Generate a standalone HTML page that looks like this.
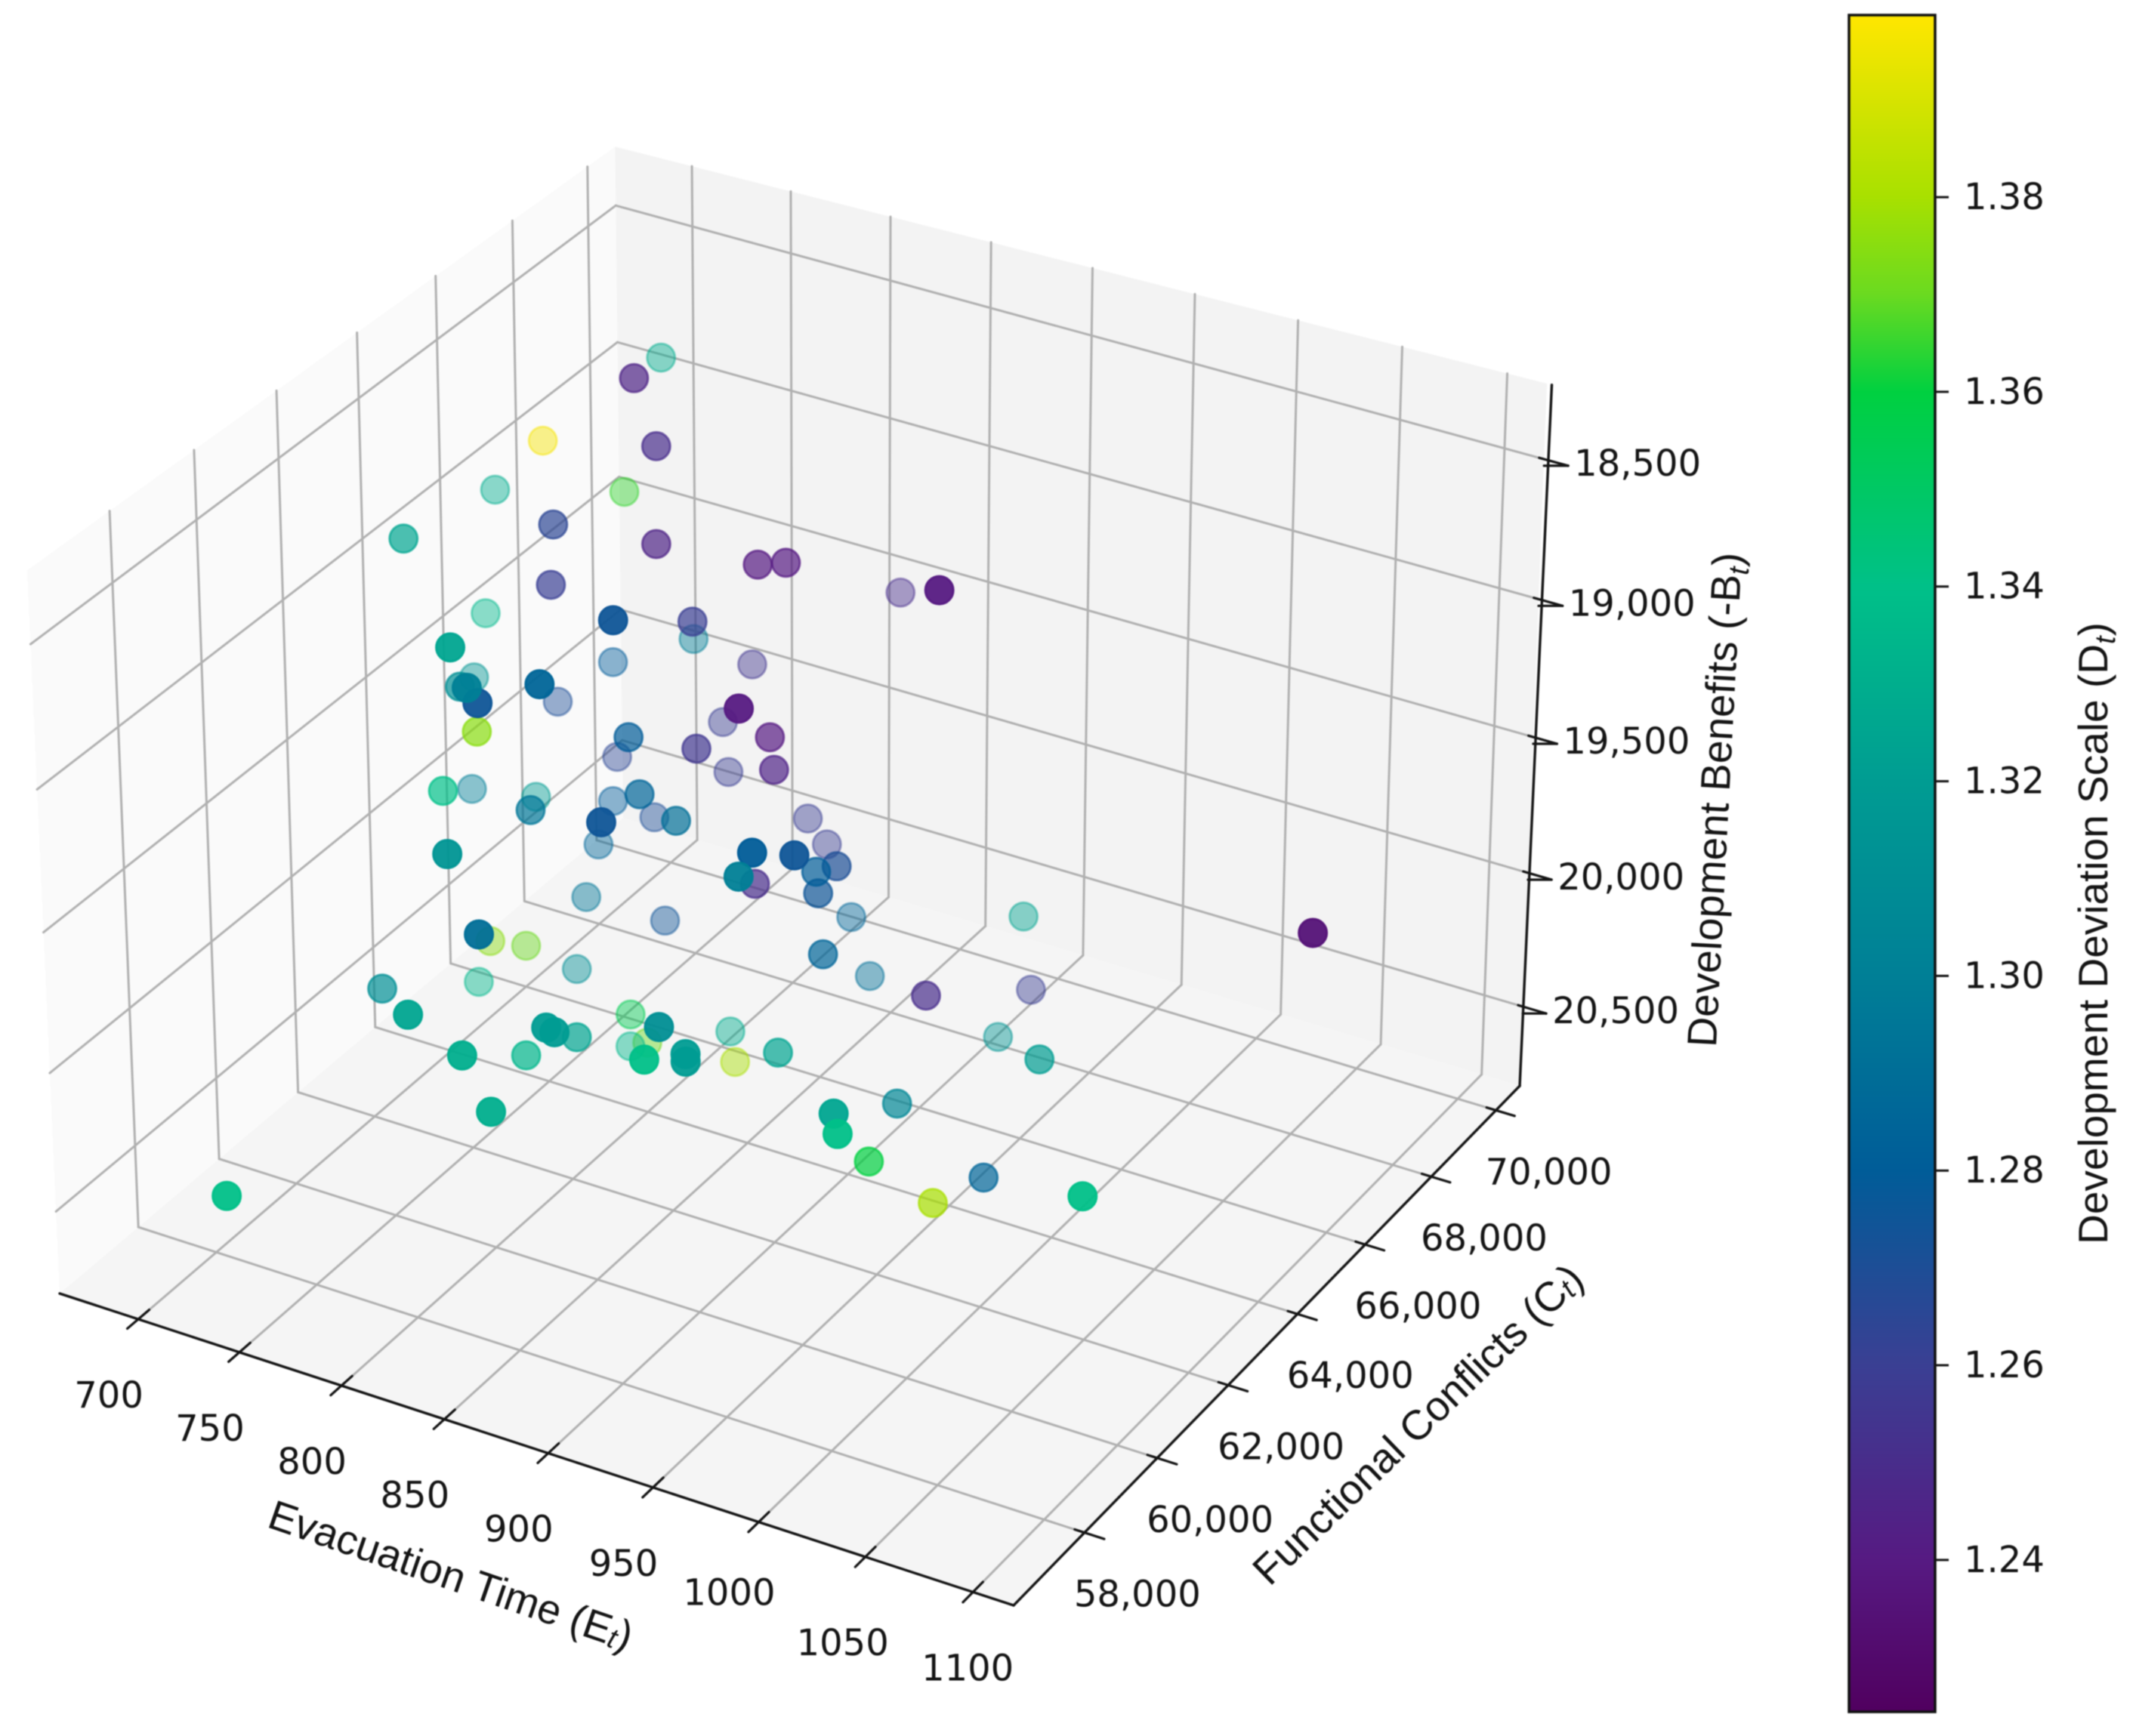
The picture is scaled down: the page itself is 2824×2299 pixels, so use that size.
<!DOCTYPE html>
<html lang="en">
<head>
<meta charset="utf-8">
<title>Development Deviation Scale 3D Scatter</title>
<style>
  html, body { margin: 0; padding: 0; background: #ffffff; }
  svg { display: block; filter: blur(0.7px); }
  text { fill: #141414; }
  .tick { font-family: "DejaVu Sans", sans-serif; font-size: 48px; }
  .title { font-family: "Liberation Sans", sans-serif; font-size: 55px; }
</style>
</head>
<body>
<svg id="chart" xmlns="http://www.w3.org/2000/svg" width="2824" height="2299" viewBox="0 0 2824 2299">
  <defs>
    <linearGradient id="cbGradient" x1="0" y1="1" x2="0" y2="0"></linearGradient>
  </defs>
  <rect x="0" y="0" width="2824" height="2299" fill="#ffffff"/>
  <g id="panes"></g>
  <g id="grid"></g>
  <g id="axes"></g>
  <g id="points"></g>
  <g id="labels"></g>
  <text class="title" text-anchor="middle" dominant-baseline="central" transform="translate(597 2086) rotate(19)">Evacuation Time (E<tspan font-size="38" font-style="italic" dy="10">t</tspan><tspan dy="-10">)</tspan></text>
  <text class="title" text-anchor="middle" dominant-baseline="central" transform="translate(1877 1886) rotate(-44)">Functional Conflicts (C<tspan font-size="38" font-style="italic" dy="10">t</tspan><tspan dy="-10">)</tspan></text>
  <text class="title" text-anchor="middle" transform="translate(2289 1060) rotate(-87)">Development Benefits (-B<tspan font-size="38" font-style="italic" dy="10">t</tspan><tspan dy="-10">)</tspan></text>
  <g id="colorbar">
    <rect x="2448" y="20" width="114" height="2247" fill="url(#cbGradient)" stroke="#111111" stroke-width="3.5"/>
  </g>
  <text class="title" text-anchor="middle" transform="translate(2790 1236) rotate(-90)">Development Deviation Scale (D<tspan font-size="38" font-style="italic" dy="10">t</tspan><tspan dy="-10">)</tspan></text>
</svg>
<script>
// ---- chart data ----
const evacuationTime = [
  676.4,745.4,638.1,761,624.3,676.2,673.4,729.5,771.2,812.4,
  823,797.5,957,734.9,633.9,839.4,793.2,719.8,781.9,690.1,
  746,636.2,710.5,792.1,818.6,797.6,672.3,894.7,740.5,721.7,
  835,780.6,807.9,702,748.1,840,714.8,647.4,673.9,750.5,
  705.1,790.8,855.2,723.4,807.6,784.9,795.3,704,801.5,914,
  929.9,874.1,866.8,911.4,844.5,869.8,704.8,812.9,738.8,881.7,
  1129.3,821.2,671.2,686,878,708.8,671,826.7,921.9,892.6,
  712,803,735.2,897,776.9,855.4,858.9,791.9,884.5,744.9,
  738.6,972.2,827.1,774.3,894.8,909.5,910.3,782.1,870.9,922,
  843.4,970.2,973.7,917.2,963,1070.5,946.1,754.1
];
const functionalConflicts = [
  71115,66727,69875,66469,69282,70080,64409,65394,65903,66397,
  66578,71206,63227,65032,68479,61169,65673,69629,60074,68984,
  69844,68022,63893,59943,60387,59921,68400,61406,69314,63735,
  65473,64620,64963,68441,69049,65309,63190,67339,67691,63607,
  68151,64355,59977,68311,64423,69267,69231,67798,58907,60684,
  60913,65129,64973,60472,64534,64861,67405,68947,67759,70031,
  63488,58645,66539,66735,64538,66913,66222,68710,64921,69636,
  61679,57789,66978,59175,67502,58517,58539,62573,69148,66915,
  66786,65236,57875,62162,58908,59179,59138,67347,63699,64122,
  57730,59707,59617,63616,64215,60690,63762,55730
];
const developmentBenefits = [
  19064,18544,19319,18728,19466,19453,19018,18958,18997,19039,
  19030,19700,18480,19124,19820,18604,19205,19863,18698,19941,
  19927,20005,19417,18802,18783,18841,20062,18820,20096,19538,
  19512,19532,19554,20211,20238,19601,19706,20324,20337,19746,
  20338,19687,19139,20378,19755,20359,20430,20464,19244,19199,
  19200,19857,19875,19264,19917,19934,20616,20634,20672,20607,
  19334,19452,20756,20764,20101,20823,20874,20800,20200,20815,
  20258,19674,20945,19672,20979,19689,19700,20364,20955,21023,
  21036,20359,19774,20421,19760,19740,19760,21065,20378,20501,
  19919,19877,19930,20664,20692,20061,20769,20177
];
const deviationScale = [
  1.33,1.245,1.397,1.25,1.33,1.365,1.325,1.265,1.245,1.24,
  1.24,1.25,1.24,1.26,1.335,1.275,1.26,1.30,1.325,1.28,
  1.255,1.315,1.31,1.30,1.285,1.275,1.27,1.24,1.26,1.375,
  1.24,1.28,1.255,1.265,1.26,1.245,1.34,1.30,1.32,1.295,
  1.28,1.285,1.275,1.27,1.29,1.26,1.26,1.285,1.315,1.28,
  1.275,1.27,1.28,1.30,1.25,1.275,1.295,1.285,1.275,1.325,
  1.235,1.29,1.375,1.37,1.285,1.31,1.335,1.29,1.25,1.26,
  1.31,1.325,1.355,1.31,1.33,1.32,1.32,1.325,1.315,1.37,
  1.335,1.32,1.33,1.335,1.34,1.32,1.32,1.38,1.325,1.305,
  1.33,1.325,1.34,1.36,1.285,1.34,1.38,1.34
];
const xTicks = [700,750,800,850,900,950,1000,1050,1100];
const yTicks = [58000,60000,62000,64000,66000,68000,70000];
const zTicks = [18500,19000,19500,20000,20500];
const colorbarTicks = [1.24,1.26,1.28,1.30,1.32,1.34,1.36,1.38];
const colorValues = [1.2244,1.24,1.26,1.28,1.30,1.32,1.34,1.36,1.37,1.38,1.3987];
const colorHexes = ['#50005f','#561a82','#3a3f93','#005c98','#007f96','#009c92','#00c088','#00d040','#6ada20','#a8e000','#ffe600'];

// ---- axis functions ----
const uOf = e => 0.0855 + (e - 700) * 0.00218375;   // evacuation time → normalised
const vOf = c => 0.13 + (c - 58000) * 0.06825 / 1000; // conflicts → normalised
const tOf = b => 0.1176 + (20500 - b) * 0.00039195;  // benefits → normalised (inverted)
const tTop = (u, v) => 1 + v * (-0.015 + 0.021 * u);  // wall top edge

// perspective camera fitted to the box
function project(u, v, t) {
  const w = 1 - 0.0397 * u + 0.0864 * v - 0.04 * t;
  return {
    x: (79 + 1209.7 * u + 817.3 * v - 44.4 * t) / w,
    y: (1713 + 328.6 * u - 536.4 * v - 988 * t) / w,
    w: w
  };
}
const cbY = d => 20 + (1.3987 - d) / (1.3987 - 1.2244) * 2247;

function hexRgb(h) {
  return [parseInt(h.slice(1,3),16), parseInt(h.slice(3,5),16), parseInt(h.slice(5,7),16)];
}
function colorOf(d) {
  let i = 0;
  while (i < colorValues.length - 2 && d > colorValues[i + 1]) i++;
  const f = Math.max(0, Math.min(1, (d - colorValues[i]) / (colorValues[i + 1] - colorValues[i])));
  const a = hexRgb(colorHexes[i]);
  const b = hexRgb(colorHexes[i + 1]);
  return 'rgb(' + a.map((c, k) => Math.round(c + (b[k] - c) * f)).join(',') + ')';
}

const NS = 'http://www.w3.org/2000/svg';
function mk(tag, attrs, parent) {
  const el = document.createElementNS(NS, tag);
  for (const k in attrs) el.setAttribute(k, attrs[k]);
  parent.appendChild(el);
  return el;
}
function seg(a, b, color, width, parent) {
  return mk('line', {x1: a.x, y1: a.y, x2: b.x, y2: b.y, stroke: color, 'stroke-width': width, 'stroke-linecap': 'round'}, parent);
}
function poly(corners, fill, parent) {
  const pts = corners.map(c => { const p = project(c[0], c[1], c[2]); return p.x + ',' + p.y; }).join(' ');
  return mk('polygon', {points: pts, fill: fill}, parent);
}

const panes = document.getElementById('panes');
const grid = document.getElementById('grid');
const axes = document.getElementById('axes');
const points = document.getElementById('points');
const labels = document.getElementById('labels');
const colorbar = document.getElementById('colorbar');

// panes
const leftWall = poly([[0,0,0],[0,1,0],[0,1,tTop(0,1)],[0,0,tTop(0,0)]], '#fafafa', panes);


const backWall = poly([[0,1,0],[1,1,0],[1,1,tTop(1,1)],[0,1,tTop(0,1)]], '#f3f3f3', panes);


const floorPane = poly([[0,0,0],[1,0,0],[1,1,0],[0,1,0]], '#f5f5f5', panes);



// grid + ticks
const GRID = '#b0b0b0';
const GW = 3;
xTicks.forEach(e => {
  const u = uOf(e);
  const g1 = seg(project(u,0,0), project(u,1,0), GRID, GW, grid);
  
  
  const g2 = seg(project(u,1,0), project(u,1,tTop(u,1)), GRID, GW, grid);
  
  
});
yTicks.forEach(c => {
  const v = vOf(c);
  const g1 = seg(project(0,v,0), project(1,v,0), GRID, GW, grid);
  
  
  const g2 = seg(project(0,v,0), project(0,v,tTop(0,v)), GRID, GW, grid);
  
  
});
zTicks.forEach(b => {
  const t = tOf(b);
  const g1 = seg(project(0,0,t), project(0,1,t), GRID, GW, grid);
  
  
  const g2 = seg(project(0,1,t), project(1,1,t), GRID, GW, grid);
  
  
});

// axis lines
const AXIS = '#141414';
const xAxisLine = seg(project(0,0,0), project(1,0,0), AXIS, 3.4, axes);


const yAxisLine = seg(project(1,0,0), project(1,1,0), AXIS, 3.4, axes);


const zAxisLine = seg(project(1,1,0), project(1.005,1,tTop(1,1)), AXIS, 3.4, axes);



// tick marks and labels
const xLabelNudge = {1000: [0, -7], 1050: [9, 13], 1100: [32, 0]};
xTicks.forEach(e => {
  const u = uOf(e);
  const m = seg(project(u, 0.018, 0), project(u, -0.018, 0), AXIS, 3.2, axes);
  
  
  const p = project(u, 0, 0);
  const n = xLabelNudge[e] || [0, 0];
  const tx = mk('text', {x: p.x - 39 + n[0], y: p.y + 101 + n[1], 'text-anchor': 'middle', 'dominant-baseline': 'central', class: 'tick'}, labels);
  
  
  tx.textContent = String(e);
});
yTicks.forEach(c => {
  const v = vOf(c);
  const m = seg(project(0.99, v, 0), project(1.02, v, 0), AXIS, 3.2, axes);
  
  
  const p = project(1, v, 0);
  const tx = mk('text', {x: p.x + 70, y: p.y + 82, 'text-anchor': 'middle', 'dominant-baseline': 'central', class: 'tick'}, labels);
  
  
  tx.textContent = c.toLocaleString('en-US');
});
zTicks.forEach(b => {
  const t = tOf(b);
  const a = project(0.995, 1, t);
  const e = project(1.025, 1, t);
  const m = seg(a, e, AXIS, 3.2, axes);
  
  
  const m2 = seg({x: project(1,1,t).x, y: e.y}, e, AXIS, 3.2, axes);
  
  
  const tx = mk('text', {x: e.x + 8, y: e.y - 3, 'text-anchor': 'start', 'dominant-baseline': 'central', class: 'tick'}, labels);
  
  
  tx.textContent = b.toLocaleString('en-US');
});

// scatter marks, far to near (depth shading)
const order = evacuationTime.map((_, i) => i);
const screen = order.map(i => project(uOf(evacuationTime[i]), vOf(functionalConflicts[i]), tOf(developmentBenefits[i])));
order.sort((a, b) => screen[b].w - screen[a].w);
order.forEach(i => {
  const p = screen[i];
  const alpha = Math.max(0.35, Math.min(1, 0.95 - (p.w - 0.98) * 6.25));
  const col = colorOf(deviationScale[i]);
  const c = mk('circle', {cx: p.x, cy: p.y, r: 18.5, fill: col, 'fill-opacity': alpha, stroke: col, 'stroke-opacity': alpha, 'stroke-width': 3}, points);
  
  
});

// colorbar
const grad = document.getElementById('cbGradient');
colorValues.forEach((d, i) => {
  mk('stop', {offset: (d - colorValues[0]) / (colorValues[colorValues.length - 1] - colorValues[0]), 'stop-color': colorHexes[i]}, grad);
});
colorbarTicks.forEach(d => {
  const y = cbY(d);
  const m = mk('line', {x1: 2562, y1: y, x2: 2580, y2: y, stroke: AXIS, 'stroke-width': 3}, colorbar);
  
  
  const tx = mk('text', {x: 2600, y: y, 'text-anchor': 'start', 'dominant-baseline': 'central', class: 'tick'}, colorbar);
  
  
  tx.textContent = d.toFixed(2);
});
</script>
</body>
</html>
